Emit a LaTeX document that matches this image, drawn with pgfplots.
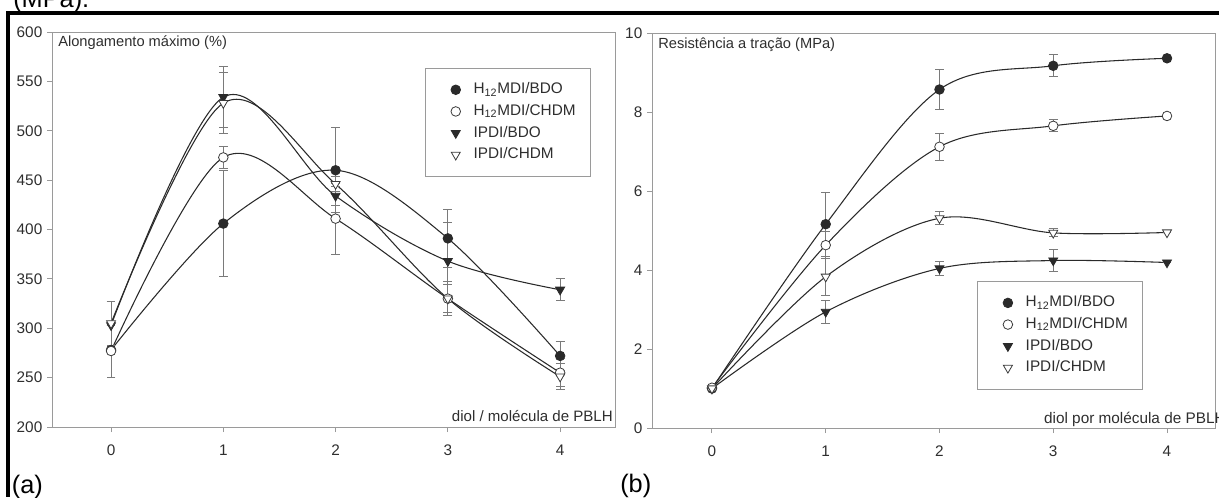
\documentclass[border=0pt]{standalone}
\usepackage{fontspec}
\setmainfont{Liberation Sans}
\usepackage{pgfplots}
\pgfplotsset{compat=1.18}
\definecolor{frame}{HTML}{9A9A9A}
\definecolor{curve}{HTML}{2A2A2A}
\definecolor{ebar}{HTML}{7A7A7A}
\definecolor{txt}{HTML}{2E2E2E}
\definecolor{openm}{HTML}{3A3A3A}

\pgfplotsset{
  panel/.style={
    scale only axis, width=422.25pt, height=296.25pt,
    axis line style={frame, line width=0.75pt},
    every tick/.style={frame, line width=0.75pt},
    tick align=outside, major tick length=3.75pt,
    xtick pos=left, ytick pos=left,
    xtick={0,1,2,3,4},
    ticklabel style={font=\fontsize{11.5}{13}\selectfont, text=txt},
    xticklabel style={yshift=-6pt},
    /pgf/number format/assume math mode=true,
    clip=false,
    legend cell align=left,
    legend style={draw=frame, line width=0.75pt, fill=white,
      font=\fontsize{11.5}{13}\selectfont, text=txt,
      anchor=north east, inner xsep=11pt, inner ysep=10pt,
      row sep=4.25pt,
      nodes={inner sep=0pt, text height=9pt, text depth=3pt},
      /tikz/every even column/.append style={column sep=6.5pt}},
    legend image code/.code={\path (-11.5pt,0pt) (13pt,0pt); \draw[##1] plot coordinates {(0pt,0pt)};},
  },
  curvest/.style={curve, line width=0.8pt, smooth, tension=0.55, forget plot},
  ebars/.style={error bars/.cd, y dir=both, y explicit,
      error bar style={ebar, line width=0.75pt},
      error mark options={rotate=90, ebar, mark size=3.3pt, line width=0.75pt}},
  fcirc/.style={only marks, mark=*, mark size=3.6pt, mark options={draw=curve, fill=curve, line width=0.6pt}},
  ocirc/.style={only marks, mark=*, mark size=3.6pt, mark options={draw=openm, fill=white, line width=0.6pt}},
  ftri/.style={only marks, mark=triangle*, mark size=3.9pt, mark options={rotate=180, draw=curve, fill=curve, line width=0.6pt}},
  otri/.style={only marks, mark=triangle*, mark size=3.9pt, mark options={rotate=180, draw=openm, fill=white, line width=0.6pt}},
}

\begin{document}
\begin{tikzpicture}
\useasboundingbox (0pt,0pt) rectangle (914.25pt,-372.75pt);
\draw[line width=3pt] (4.5pt,-9.75pt) -- (914.25pt,-9.75pt);
\draw[line width=3pt] (6pt,-8.25pt) -- (6pt,-372.75pt);
\node[anchor=base west, inner sep=0pt, font=\fontsize{19}{22}\selectfont] at (9.75pt,-5.25pt) {(MPa).};
\node[anchor=base west, inner sep=0pt, font=\fontsize{19}{22}\selectfont] at (8.75pt,-369.75pt) {(a)};
\node[anchor=base west, inner sep=0pt, font=\fontsize{19}{22}\selectfont] at (465pt,-369.5pt) {(b)};

% ---------------- panel (a)
\begin{axis}[panel, at={(39pt,-320.25pt)}, anchor=south west,
  xmin=-0.526, xmax=4.489, ymin=200, ymax=600,
  ytick={200,250,...,600},
  legend style={at={(0.957,0.909)}}]
\addplot[curvest] table {
x y
0 278
1 406
2 460
3 391
4 272
};
\addplot[curvest] table {
x y
0 277
1 473
2 411
3 330
4 255
};
\addplot[curvest] table {
x y
0 303
1 534
2 434
3 368
4 339
};
\addplot[curvest] table {
x y
0 305
1 528
2 446
3 330
4 251
};
\addplot[fcirc, ebars] table[x=x, y=y, y error=e] {
x y e
0 278 0
1 406 54
2 460 43
3 391 29
4 272 15
};
\addlegendentry{H\textsubscript{12}MDI/BDO}
\addplot[ocirc, ebars] table[x=x, y=y, y error=e] {
x y e
0 277 27
1 473 11
2 411 36
3 330 17
4 255 14
};
\addlegendentry{H\textsubscript{12}MDI/CHDM}
\addplot[ftri, ebars] table[x=x, y=y, y error=e] {
x y e
0 303 0
1 534 31
2 434 10
3 368 39
4 339 11
};
\addlegendentry{IPDI/BDO}
\addplot[otri, ebars] table[x=x, y=y, y error=e] {
x y e
0 305 22
1 528 31
2 446 8
3 330 14
4 251 13
};
\addlegendentry{IPDI/CHDM}
\node[anchor=base west, inner sep=0pt, font=\fontsize{11}{13}\selectfont, text=txt] at ([xshift=4.5pt,yshift=-11pt]rel axis cs:0,1) {Alongamento máximo (\%)};
\node[anchor=base east, inner sep=0pt, font=\fontsize{11.3}{13}\selectfont, text=txt] at ([xshift=-1.5pt,yshift=4pt]rel axis cs:1,0) {diol / molécula de PBLH};
\end{axis}

% ---------------- panel (b)
\begin{axis}[panel, at={(489pt,-321pt)}, anchor=south west,
  xmin=-0.527, xmax=4.422, ymin=0, ymax=10,
  ytick={0,2,...,10},
  legend style={at={(0.872,0.372)}}]
\addplot[curvest] table {
x y
0 1.0
1 5.16
2 8.57
3 9.17
4 9.36
};
\addplot[curvest] table {
x y
0 1.02
1 4.63
2 7.12
3 7.65
4 7.90
};
\addplot[curvest] table {
x y
0 1.0
1 2.94
2 4.04
3 4.24
4 4.19
};
\addplot[curvest] table {
x y
0 1.0
1 3.83
2 5.31
3 4.94
4 4.95
};
\addplot[fcirc, ebars] table[x=x, y=y, y error=e] {
x y e
0 1.0 0
1 5.16 0.81
2 8.57 0.50
3 9.17 0.28
4 9.36 0
};
\addlegendentry{H\textsubscript{12}MDI/BDO}
\addplot[ocirc, ebars] table[x=x, y=y, y error=e] {
x y e
0 1.02 0
1 4.63 0.35
2 7.12 0.34
3 7.65 0.15
4 7.90 0
};
\addlegendentry{H\textsubscript{12}MDI/CHDM}
\addplot[ftri, ebars] table[x=x, y=y, y error=e] {
x y e
0 1.0 0
1 2.94 0.30
2 4.04 0.18
3 4.24 0.27
4 4.19 0
};
\addlegendentry{IPDI/BDO}
\addplot[otri, ebars] table[x=x, y=y, y error=e] {
x y e
0 1.0 0
1 3.83 0.47
2 5.31 0.16
3 4.94 0.10
4 4.95 0
};
\addlegendentry{IPDI/CHDM}
\node[anchor=base west, inner sep=0pt, font=\fontsize{11}{13}\selectfont, text=txt] at ([xshift=4.5pt,yshift=-11.25pt]rel axis cs:0,1) {Resistência a tração (MPa)};
\node[anchor=base west, inner sep=0pt, font=\fontsize{11.5}{13}\selectfont, text=txt] at ([yshift=3.5pt]rel axis cs:0.696,0) {diol por molécula de PBLH};
\end{axis}
\end{tikzpicture}
\end{document}
